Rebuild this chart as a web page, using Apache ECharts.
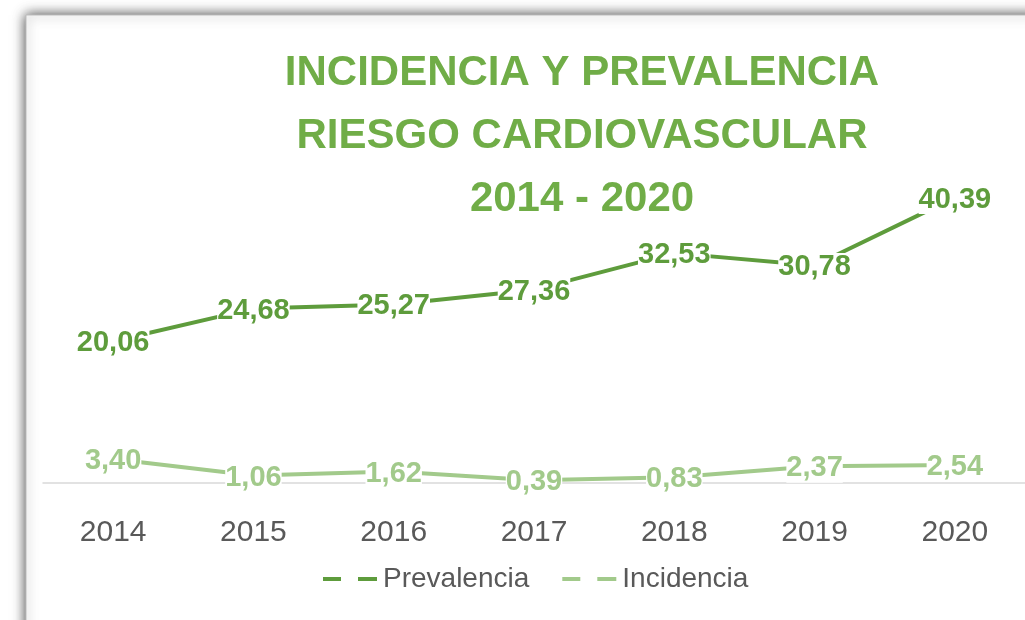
<!DOCTYPE html>
<html>
<head>
<meta charset="utf-8">
<title>Incidencia y prevalencia</title>
<script src="https://cdn.jsdelivr.net/npm/echarts@6.0.0/dist/echarts.min.js"></script>
<style>
    html, body { margin: 0; padding: 0; background: #fff; }
    #main { width: 1025px; height: 620px; }
</style>
</head>
<body>
<div id="main"></div>
<script>
    // 数据
    var years = ['2014', '2015', '2016', '2017', '2018', '2019', '2020'];
    var prevalencia = [20.06, 24.68, 25.27, 27.36, 32.53, 30.78, 40.39];
    var incidencia = [3.40, 1.06, 1.62, 0.39, 0.83, 2.37, 2.54];

    var verde = '#5e9c3c';
    var verdeClaro = '#a2ca8b';

    // 小数逗号
    function fmt(p) {
        return p.value.toFixed(2).replace('.', ',');
    }

    function labelStyle(color) {
        return {
            show: true,
            position: 'inside',
            offset: [0, 2],
            formatter: fmt,
            color: color,
            fontFamily: 'Liberation Sans',
            fontWeight: 'bold',
            fontSize: 29,
            backgroundColor: '#fff',
            padding: 0
        };
    }

    function graph() {
        var myChart = echarts.init(document.getElementById('main'));
        var option = {
            animation: false,
            backgroundColor: '#fff',
            //阴影边框
            graphic: [{
                type: 'rect',
                z: -100,
                shape: { x: 26, y: 15, width: 1100, height: 700 },
                style: {
                    fill: '#fff',
                    stroke: '#bdbdbd',
                    lineWidth: 1,
                    shadowBlur: 12,
                    shadowColor: 'rgba(0,0,0,0.75)'
                }
            }],
            title: {
                text: 'INCIDENCIA Y PREVALENCIA\nRIESGO CARDIOVASCULAR\n2014 - 2020',
                left: 577,
                top: 37,
                textAlign: 'center',
                textStyle: {
                    color: '#70ad47',
                    fontFamily: 'Liberation Sans',
                    fontWeight: 'bold',
                    fontSize: 42,
                    lineHeight: 63
                }
            },
            legend: {
                top: 560,
                left: 318,
                itemGap: 33,
                itemWidth: 54,
                itemHeight: 4,
                icon: 'path://M0,0h18v4h-18z M35,0h19v4h-19z',
                textStyle: {
                    color: '#595959',
                    fontFamily: 'Liberation Sans',
                    fontSize: 28,
                    padding: [0, 0, 0, 1]
                },
                data: ['Prevalencia', 'Incidencia']
            },
            grid: {
                left: 43,
                right: -16,
                top: 165,
                bottom: 137
            },
            xAxis: {
                type: 'category',
                data: years,
                axisTick: { show: false },
                axisLine: { lineStyle: { color: '#d9d9d9', width: 1.5 } },
                axisLabel: {
                    color: '#595959',
                    fontFamily: 'Liberation Sans',
                    fontSize: 30,
                    margin: 35
                }
            },
            yAxis: {
                type: 'value',
                min: 0,
                max: 45,
                show: false,
                splitLine: { show: false }
            },
            series: [
                {
                    name: 'Prevalencia',
                    type: 'line',
                    data: prevalencia,
                    symbol: 'circle',
                    symbolSize: 0,
                    color: verde,
                    lineStyle: { color: verde, width: 4 },
                    label: labelStyle(verde)
                },
                {
                    name: 'Incidencia',
                    type: 'line',
                    data: incidencia,
                    symbol: 'circle',
                    symbolSize: 0,
                    color: verdeClaro,
                    lineStyle: { color: verdeClaro, width: 4 },
                    label: labelStyle(verdeClaro)
                }
            ]
        };
        myChart.setOption(option);
    }

    function init() {
        graph();
    }
    init();
</script>
</body>
</html>
